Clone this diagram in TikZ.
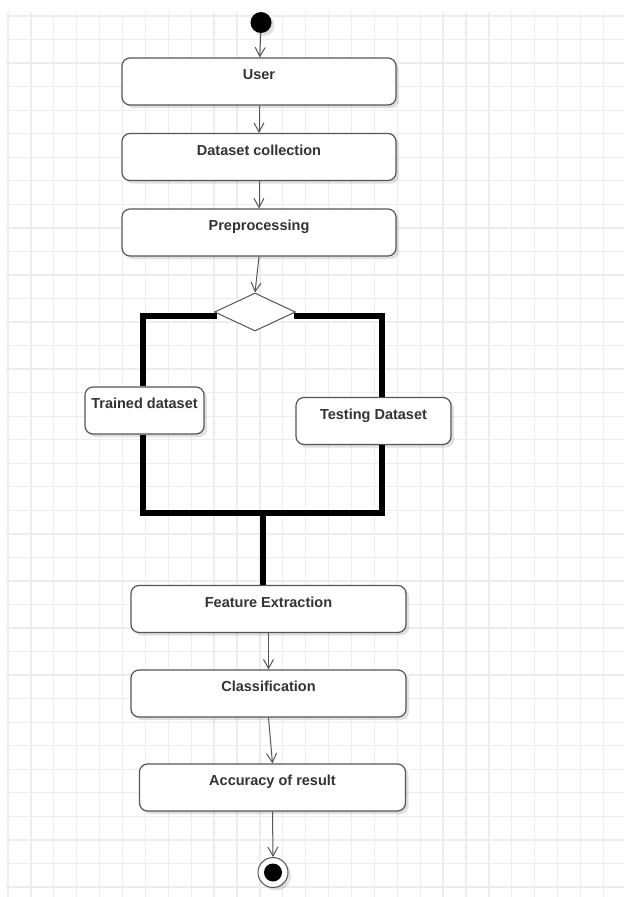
\documentclass[tikz,border=0pt]{standalone}
\usepackage{fontspec}
\setmainfont{Liberation Sans}
\usetikzlibrary{arrows.meta,shapes.geometric,shadows}
\definecolor{gridgray}{HTML}{EDEDED}
\definecolor{edgegray}{HTML}{555555}
\definecolor{textgray}{HTML}{333333}

\begin{document}
\begin{tikzpicture}[x=1pt,y=-1pt,
  box/.style={draw=edgegray, line width=1.2pt, rounded corners=8pt, fill=white,
    drop shadow={shadow xshift=3pt, shadow yshift=-3pt, opacity=0.12, fill=black},
    minimum height=47pt, inner ysep=10pt, inner xsep=2pt,
    text height=11.5pt, text depth=15.5pt, text=textgray,
    font=\fontsize{14.5}{17}\selectfont\bfseries},
  flow/.style={draw=edgegray, line width=1pt, -{Straight Barb[length=9pt,width=10pt]}},
  bar/.style={line width=6pt, black}]

  % background grid
  \useasboundingbox (0,0) rectangle (624,897);
  \fill[white] (0,0) rectangle (624,897);
  \foreach \i in {0,...,26}
    \draw[gridgray, line width=1.3pt] ({8+22.9*\i},12) -- ({8+22.9*\i},897);
  \foreach \j in {0,...,37}
    \draw[gridgray, line width=1.3pt] (6,{16+23.54*\j}) -- (624,{16+23.54*\j});

  % start and end
  \node[circle, fill=black, minimum size=21pt, inner sep=0pt,
    drop shadow={shadow xshift=3pt, shadow yshift=-3pt, opacity=0.12, fill=black}] (start) at (261,22.5) {};
  \node[circle, draw=edgegray, line width=1pt, fill=white, minimum size=30pt, inner sep=0pt,
    drop shadow={shadow xshift=3pt, shadow yshift=-3pt, opacity=0.12, fill=black}] (stop) at (273,872.5) {};
  \node[circle, fill=black, minimum size=18pt, inner sep=0pt] (stopdot) at (stop) {};

  % activities
  \node[box, minimum width=274pt] (user) at (259,81.5) {User};
  \node[box, minimum width=274pt] (data) at (259,157) {Dataset collection};
  \node[box, minimum width=274pt] (prep) at (259,232.5) {Preprocessing};
  \node[box, minimum width=119pt] (trained) at (144.5,410.5) {Trained dataset};
  \node[box, minimum width=155pt] (test) at (373.5,421) {Testing Dataset};
  \node[box, minimum width=275pt] (feat) at (268.5,609) {Feature Extraction};
  \node[box, minimum width=275pt] (cls) at (268.5,693.5) {Classification};
  \node[box, minimum width=266pt] (acc) at (272.5,787.5) {Accuracy of result};

  % decision
  \node[diamond, draw=edgegray, line width=1pt, fill=white, inner sep=0pt,
    minimum width=81pt, minimum height=38pt] (dec) at (255,312) {};

  % arrows
  \draw[flow] (start) -- (user);
  \draw[flow] (user) -- (data);
  \draw[flow] (data) -- (prep);
  \draw[flow] (prep.south) -- (dec.north);
  \draw[flow] (feat) -- (cls);
  \draw[flow] (cls.south) -- (acc.north);
  \draw[flow] (acc.south) -- (stop.north);

  % fork and join bars
  \coordinate (join) at (263,513);
  \draw[bar] ([xshift=3pt,yshift=-4pt]dec.west) -| ([xshift=-1.5pt]trained.north);
  \draw[bar] ([xshift=-2pt,yshift=-4pt]dec.east) -| ([xshift=8.5pt]test.north);
  \draw[bar] ([xshift=-1.5pt]trained.south) |- (join);
  \draw[bar] ([xshift=8.5pt]test.south) |- (join);
  \draw[bar] (join) -- (join |- feat.north);
\end{tikzpicture}
\end{document}
